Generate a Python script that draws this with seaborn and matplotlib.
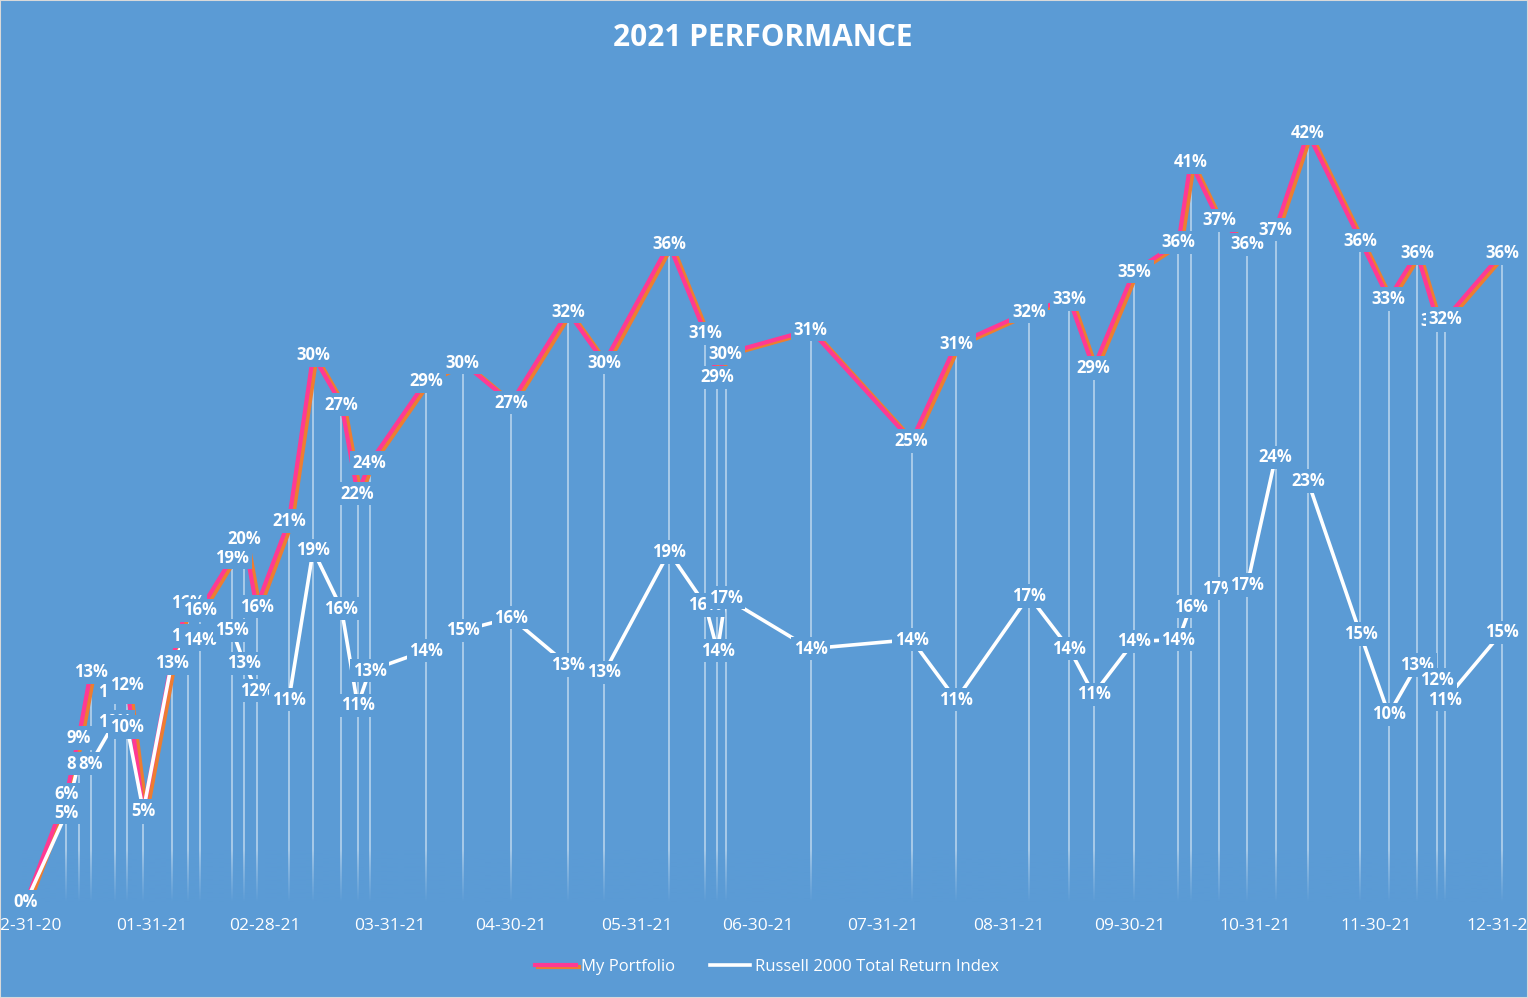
import matplotlib
matplotlib.use("Agg")
import matplotlib.pyplot as plt
import matplotlib.dates as mdates
import matplotlib.patheffects as pe
from matplotlib.patches import Rectangle
import matplotlib.colors as mcolors
import numpy as np
import pandas as pd
import seaborn as sns

# ---------------- data ----------------
dates = [
    "2020-12-31", "2021-01-10", "2021-01-13", "2021-01-16", "2021-01-22", "2021-01-25",
    "2021-01-29", "2021-02-05", "2021-02-09", "2021-02-12", "2021-02-20", "2021-02-23",
    "2021-02-26", "2021-03-06", "2021-03-12", "2021-03-19", "2021-03-23", "2021-03-26",
    "2021-04-09", "2021-04-18", "2021-04-30", "2021-05-14", "2021-05-23", "2021-06-08",
    "2021-06-17", "2021-06-20", "2021-06-22", "2021-07-13", "2021-08-07", "2021-08-18",
    "2021-09-05", "2021-09-15", "2021-09-21", "2021-10-01", "2021-10-12", "2021-10-15",
    "2021-10-22", "2021-10-29", "2021-11-05", "2021-11-13", "2021-11-26", "2021-12-03",
    "2021-12-10", "2021-12-15", "2021-12-17", "2021-12-31",
]
portfolio = [
    0.0, 5.9, 9.0, 12.6, 11.5, 11.9,
    4.9, 13.2, 16.4, 16.0, 18.9, 19.9,
    16.2, 20.9, 30.0, 27.3, 22.4, 24.1,
    28.6, 29.6, 27.4, 32.4, 29.6, 36.1,
    31.2, 28.8, 30.1, 31.4, 25.3, 30.6,
    32.4, 33.1, 29.3, 34.6, 36.2, 40.6,
    37.4, 36.1, 36.9, 42.2, 36.3, 33.1,
    35.6, 31.9, 32.0, 35.6,
]
russell = [
    0.0, 4.9, 7.6, 7.6, 9.9, 9.6,
    5.0, 13.1, 14.6, 14.4, 14.9, 13.1,
    11.6, 11.1, 19.3, 16.1, 10.8, 12.7,
    13.8, 14.9, 15.6, 13.0, 12.6, 19.2,
    16.3, 13.8, 16.7, 13.9, 14.4, 11.1,
    16.8, 13.9, 11.4, 14.3, 14.4, 16.2,
    17.2, 17.4, 24.4, 23.1, 14.7, 10.3,
    13.0, 12.2, 11.1, 14.8,
]
tick_dates = [
    "2020-12-31", "2021-01-31", "2021-02-28", "2021-03-31", "2021-04-30",
    "2021-05-31", "2021-06-30", "2021-07-31", "2021-08-31", "2021-09-30",
    "2021-10-31", "2021-11-30", "2021-12-31",
]
series_names = ["My Portfolio", "Russell 2000 Total Return Index"]
title = "2021 PERFORMANCE"

# ---------------- style ----------------
BG = "#5B9BD5"
PINK = "#FF3A93"
ORANGE = "#ED7D31"
WHITE = "#FFFFFF"

plt.rcParams['font.family'] = ['Open Sans', 'DejaVu Sans']

dt = pd.to_datetime(dates)
ticks = pd.to_datetime(tick_dates)
df = pd.DataFrame({"date": dt, "portfolio": portfolio, "russell": russell})

W, H = 1528, 998
fig = plt.figure(figsize=(W / 100, H / 100), dpi=100, facecolor=BG)
ax = fig.add_axes([22 / W, (H - 902) / H, 1484 / W, 820 / H])
ax.set_facecolor(BG)

x0 = mdates.date2num(dt[0] - pd.Timedelta(days=1))
x1 = mdates.date2num(dt[-1] + pd.Timedelta(days=1))

# drop lines (from portfolio points to the axis)
ax.vlines(dt, 0, df["portfolio"], color=WHITE, alpha=0.6, lw=1.1, zorder=1)

# fade of drop lines near the bottom
grad = np.zeros((64, 1, 4))
grad[..., :3] = mcolors.to_rgb(BG)
grad[:, 0, 3] = np.linspace(1, 0, 64) ** 0.8
ax.imshow(grad, extent=[x0, x1, 0, 2.8], origin='lower', aspect='auto',
          zorder=1.5, interpolation='bilinear')

# series
sns.lineplot(data=df, x="date", y="portfolio", ax=ax, color=PINK, lw=3.0,
             label=series_names[0], zorder=3, sort=False,
             path_effects=[pe.SimpleLineShadow(offset=(2.4, -1.0), shadow_color=ORANGE,
                                               alpha=1.0, rho=1.0),
                           pe.Normal()])
sns.lineplot(data=df, x="date", y="russell", ax=ax, color=WHITE, lw=2.6,
             label=series_names[1], zorder=4, sort=False)

# data labels (opaque boxes in background colour)
box = dict(boxstyle='square,pad=0.16', fc=BG, ec='none')
for d, v in zip(dt, df["portfolio"]):
    ax.annotate(f"{v:.0f}%", (d, v), ha='center', va='center', fontsize=12,
                fontweight='bold', color=WHITE, bbox=box, zorder=6,
                annotation_clip=False)
for d, v in zip(dt, df["russell"]):
    ax.annotate(f"{v:.0f}%", (d, v), ha='center', va='center', fontsize=12,
                fontweight='bold', color=WHITE, bbox=box, zorder=6,
                annotation_clip=False)

ax.set_xlim(x0, x1)
ax.set_ylim(0, 45)
ax.set_xticks(ticks)
ax.xaxis.set_major_formatter(mdates.DateFormatter('%m-%d-%y'))
ax.set_yticks([])
ax.tick_params(axis='x', length=0, pad=11.5, labelsize=12.5, labelcolor=WHITE)
for s in ax.spines.values():
    s.set_visible(False)
ax.set_xlabel("")
ax.set_ylabel("")

fig.text(763 / W, 1 - 38 / H, title, ha='center', va='center', fontsize=21.5,
         fontweight='bold', color=WHITE)

handles, labels = ax.get_legend_handles_labels()
ax.legend(handles, labels, loc='center', bbox_to_anchor=(767 / W, 1 - 967 / H),
          bbox_transform=fig.transFigure, ncol=2, frameon=False, labelcolor=WHITE,
          fontsize=12, handlelength=2.45, columnspacing=2.1, handletextpad=0.3)

fig.patches.append(Rectangle((0, 0), 1, 1, transform=fig.transFigure, fill=False,
                             ec='#D9D9D9', lw=1.5, zorder=10))

fig.savefig("out.png", dpi=100, facecolor=BG)
